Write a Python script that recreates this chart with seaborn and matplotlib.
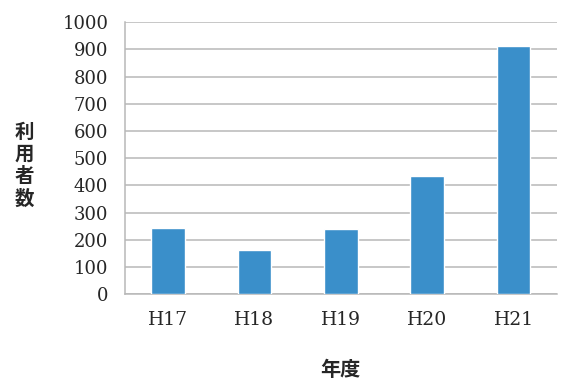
import pandas as pd
import seaborn as sb
import matplotlib.pyplot as plt
from matplotlib.ticker import FixedLocator

years = ["H17", "H18", "H19", "H20", "H21"]
users = [242, 163, 238, 434, 912]

df = pd.DataFrame({"year": years, "users": users})

sb.set_style("white")
plt.rcParams["font.family"] = ["DejaVu Serif", "Noto Sans CJK JP"]

fig = plt.figure(figsize=(5.63, 3.81), dpi=100)
ax = fig.add_axes([0.222, 0.228, 0.767, 0.714])

sb.barplot(data=df, x="year", y="users", color="#3a8fca", width=0.39,
           saturation=1, ax=ax, zorder=3)

ax.set_ylim(0, 1000)
ax.set_yticks(range(0, 1001, 100))
ax.set_xlim(-0.5, len(years) - 0.5)
ax.grid(axis="y", color="#b8b8b8", linewidth=1.1, zorder=0)
ax.tick_params(axis="y", length=7, color="#b8b8b8", labelsize=13, pad=5)
ax.tick_params(axis="x", which="major", length=0, labelsize=13.5, pad=12)
ax.xaxis.set_minor_locator(FixedLocator([i - 0.5 for i in range(len(years) + 1)]))
ax.tick_params(axis="x", which="minor", length=5, color="#b8b8b8", direction="out")

for s in ["top", "right"]:
    ax.spines[s].set_visible(False)
for s in ["left", "bottom"]:
    ax.spines[s].set_color("#b8b8b8")
    ax.spines[s].set_linewidth(1.1)

ax.set_xlabel("")
ax.set_ylabel("")
fig.text(0.044, 0.565, "利\n用\n者\n数", family="Noto Sans CJK JP", fontweight="bold",
         fontsize=14, ha="center", va="center", linespacing=1.2)
fig.text(0.604, 0.03, "年度", family="Noto Sans CJK JP", fontweight="bold",
         fontsize=14.5, ha="center", va="center")

plt.savefig("out.png", dpi=100)
